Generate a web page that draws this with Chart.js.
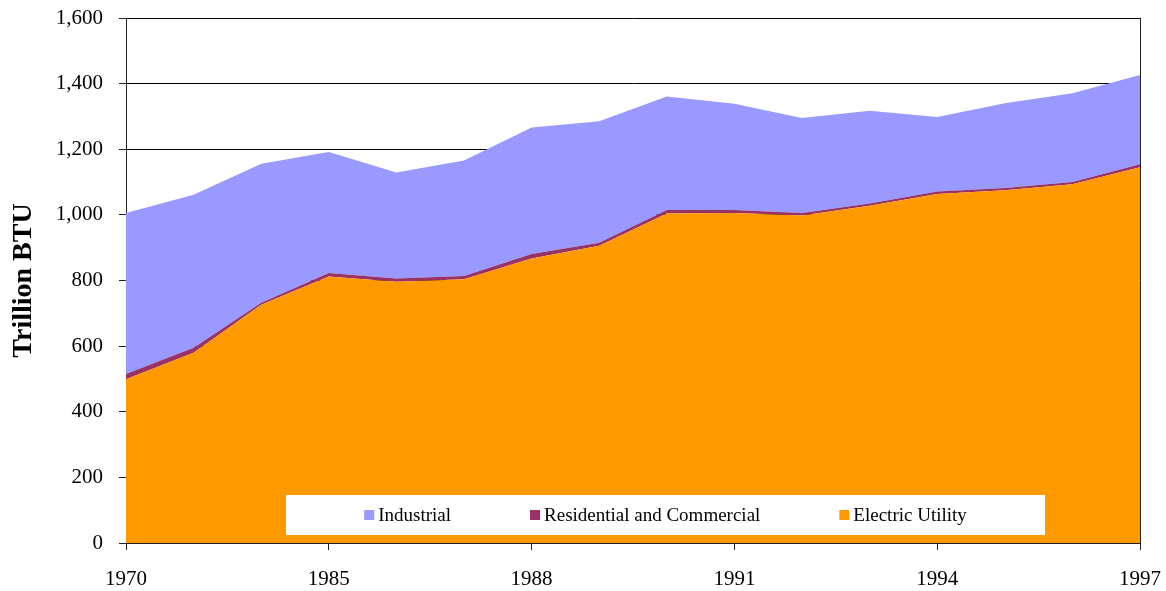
<!DOCTYPE html>
<html>
<head>
<meta charset="utf-8">
<script src="https://cdn.jsdelivr.net/npm/chart.js@4"></script>
<style>
  html, body { margin: 0; padding: 0; background: #fff; }
  #wrap { width: 1166px; height: 591px; }
</style>
</head>
<body>
<div id="wrap"><canvas id="btuChart"></canvas></div>
<script>
// 카테고리 (라벨은 3개마다 표시)
const years = ['1970', '1975', '1980', '1985', '1986', '1987', '1988', '1989', '1990', '1991', '1992', '1993', '1994', '1995', '1996', '1997'];
const electricUtility = [499, 580, 726, 812, 796, 804, 867, 906, 1004, 1006, 998, 1028, 1064, 1075, 1093, 1145];
const residentialCommercial = [16, 15, 6, 11, 10, 10, 14, 9, 11, 9, 8, 7, 7, 7, 7, 9];
const industrial = [491, 466, 424, 369, 323, 352, 385, 370, 346, 324, 289, 282, 227, 258, 271, 272];
const yTicks = [0, 200, 400, 600, 800, 1000, 1200, 1400, 1600];

const FONT = "'Liberation Serif', 'Times New Roman', serif";

// 차트 영역 안쪽 아래에 흰 박스 범례 그리기
const boxLegend = {
  id: 'boxLegend',
  afterDraw: function (chart) {
    const ctx = chart.ctx;
    const area = chart.chartArea;
    const x0 = area.left + 160;
    const y0 = area.bottom - 48;
    const w = 759;
    const h = 40;
    ctx.save();
    ctx.fillStyle = '#fff';
    ctx.fillRect(x0, y0, w, h);
    ctx.font = '19px ' + FONT;
    ctx.textBaseline = 'middle';
    const items = chart.data.datasets.slice().reverse();
    const box = 10, gapText = 4, gapItem = 79;
    const widths = items.map((ds) => box + gapText + ctx.measureText(ds.label).width);
    const total = widths.reduce((a, b) => a + b, 0) + gapItem * (items.length - 1);
    let x = x0 + (w - total) / 2;
    const cy = y0 + h / 2;
    items.forEach((ds, i) => {
      ctx.fillStyle = ds.backgroundColor;
      ctx.fillRect(x, cy - box / 2, box, box);
      ctx.fillStyle = '#000';
      ctx.fillText(ds.label, x + box + gapText, cy + 1);
      x += widths[i] + gapItem;
    });
    // 오른쪽 테두리
    ctx.strokeStyle = '#222';
    ctx.lineWidth = 1;
    ctx.beginPath();
    ctx.moveTo(Math.round(area.right) + 0.5, area.top);
    ctx.lineTo(Math.round(area.right) + 0.5, area.bottom);
    ctx.stroke();
    ctx.restore();
  },
};

const areaSet = (label, data, color, fill) => ({
  label,
  data,
  backgroundColor: color,
  borderColor: color,
  borderWidth: 0,
  pointRadius: 0,
  fill,
  tension: 0,
});

new Chart(document.getElementById('btuChart'), {
  type: 'line',
  data: {
    labels: years,
    datasets: [
      areaSet('Electric Utility', electricUtility, '#FF9900', 'origin'),
      areaSet('Residential and Commercial', residentialCommercial, '#993366', '-1'),
      areaSet('Industrial', industrial, '#9999FF', '-1'),
    ],
  },
  options: {
    responsive: true,
    maintainAspectRatio: false,
    animation: false,
    layout: { padding: { top: 18, right: 26, left: 0, bottom: 0 } },
    plugins: {
      legend: { display: false },
      tooltip: { enabled: false },
    },
    scales: {
      x: {
        offset: false,
        grid: {
          drawOnChartArea: false,
          tickLength: 7,
          tickColor: (c) => (c.index % 3 === 0 ? '#222' : 'rgba(0,0,0,0)'),
        },
        border: { color: '#222', width: 1 },
        ticks: {
          autoSkip: false,
          maxRotation: 0,
          padding: 17,
          color: '#000',
          font: { family: FONT, size: 21 },
          callback: function (value, index) {
            return index % 3 === 0 ? years[index] : ''; // 3개마다 라벨
          },
        },
        afterFit: (scale) => {
          scale.height = 48;
          scale.paddingLeft = 0;
          scale.paddingRight = 0;
        },
      },
      y: {
        stacked: true,
        min: 0,
        max: 1600,
        afterBuildTicks: (scale) => { scale.ticks = yTicks.map((v) => ({ value: v })); },
        grid: { color: '#000', lineWidth: 1, tickLength: 7, tickColor: '#222' },
        border: { color: '#222', width: 1 },
        ticks: {
          padding: 16,
          color: '#000',
          font: { family: FONT, size: 21 },
          callback: (v) => v.toLocaleString('en-US'),
        },
        title: {
          display: true,
          text: 'Trillion BTU',
          color: '#000',
          font: { family: FONT, size: 28, weight: 'bold' },
          padding: { top: 7, bottom: 0 },
        },
        afterFit: (scale) => {
          scale.width = 126;
          scale.paddingTop = 0;
          scale.paddingBottom = 0;
        },
      },
    },
  },
  plugins: [boxLegend],
});
</script>
</body>
</html>
